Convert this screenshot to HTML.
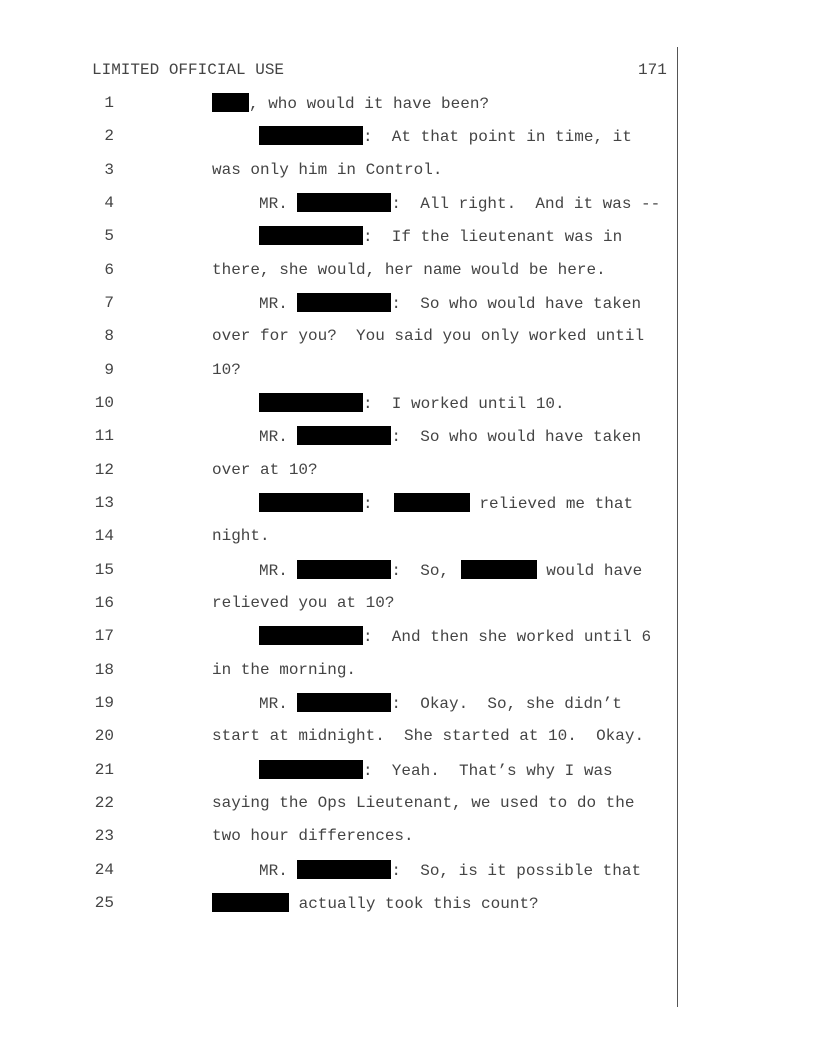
<!DOCTYPE html>
<html><head><meta charset="utf-8"><style>
body{margin:0;background:#fff}
#p{position:relative;width:816px;height:1056px;overflow:hidden;font-family:"Liberation Mono","Courier New",monospace;font-size:16px;color:#444}
.l{position:absolute;height:20px;line-height:20px;white-space:pre}
.n{position:absolute;left:60px;width:54px;text-align:right;height:20px;line-height:20px}
.b{display:inline-block;background:#000;height:19px;vertical-align:-4px}
#v{position:absolute;left:677px;top:47px;width:1px;height:960px;background:#555}
</style></head><body><div id="p">
<div class="l" style="left:92px;top:60px">LIMITED OFFICIAL USE</div>
<div class="l" style="left:638px;top:60px">171</div>
<div id="v"></div>

<div class="n" style="top:93px">1</div><div class="l" style="left:212px;top:93px"><span class="b" style="width:37px"></span>, who would it have been?</div>
<div class="n" style="top:126px">2</div><div class="l" style="left:259px;top:126px"><span class="b" style="width:104px"></span>:  At that point in time, it</div>
<div class="n" style="top:160px">3</div><div class="l" style="left:212px;top:160px">was only him in Control.</div>
<div class="n" style="top:193px">4</div><div class="l" style="left:259px;top:193px">MR. <span class="b" style="width:94px"></span>:  All right.  And it was --</div>
<div class="n" style="top:226px">5</div><div class="l" style="left:259px;top:226px"><span class="b" style="width:104px"></span>:  If the lieutenant was in</div>
<div class="n" style="top:260px">6</div><div class="l" style="left:212px;top:260px">there, she would, her name would be here.</div>
<div class="n" style="top:293px">7</div><div class="l" style="left:259px;top:293px">MR. <span class="b" style="width:94px"></span>:  So who would have taken</div>
<div class="n" style="top:326px">8</div><div class="l" style="left:212px;top:326px">over for you?  You said you only worked until</div>
<div class="n" style="top:360px">9</div><div class="l" style="left:212px;top:360px">10?</div>
<div class="n" style="top:393px">10</div><div class="l" style="left:259px;top:393px"><span class="b" style="width:104px"></span>:  I worked until 10.</div>
<div class="n" style="top:426px">11</div><div class="l" style="left:259px;top:426px">MR. <span class="b" style="width:94px"></span>:  So who would have taken</div>
<div class="n" style="top:460px">12</div><div class="l" style="left:212px;top:460px">over at 10?</div>
<div class="n" style="top:493px">13</div><div class="l" style="left:259px;top:493px"><span class="b" style="width:104px"></span>:  <span class="b" style="width:76px;margin-left:2px"></span> relieved me that</div>
<div class="n" style="top:526px">14</div><div class="l" style="left:212px;top:526px">night.</div>
<div class="n" style="top:560px">15</div><div class="l" style="left:259px;top:560px">MR. <span class="b" style="width:94px"></span>:  So, <span class="b" style="width:76px;margin-left:2px"></span> would have</div>
<div class="n" style="top:593px">16</div><div class="l" style="left:212px;top:593px">relieved you at 10?</div>
<div class="n" style="top:626px">17</div><div class="l" style="left:259px;top:626px"><span class="b" style="width:104px"></span>:  And then she worked until 6</div>
<div class="n" style="top:660px">18</div><div class="l" style="left:212px;top:660px">in the morning.</div>
<div class="n" style="top:693px">19</div><div class="l" style="left:259px;top:693px">MR. <span class="b" style="width:94px"></span>:  Okay.  So, she didn’t</div>
<div class="n" style="top:726px">20</div><div class="l" style="left:212px;top:726px">start at midnight.  She started at 10.  Okay.</div>
<div class="n" style="top:760px">21</div><div class="l" style="left:259px;top:760px"><span class="b" style="width:104px"></span>:  Yeah.  That’s why I was</div>
<div class="n" style="top:793px">22</div><div class="l" style="left:212px;top:793px">saying the Ops Lieutenant, we used to do the</div>
<div class="n" style="top:826px">23</div><div class="l" style="left:212px;top:826px">two hour differences.</div>
<div class="n" style="top:860px">24</div><div class="l" style="left:259px;top:860px">MR. <span class="b" style="width:94px"></span>:  So, is it possible that</div>
<div class="n" style="top:893px">25</div><div class="l" style="left:212px;top:893px"><span class="b" style="width:77px"></span> actually took this count?</div>
</div></body></html>
